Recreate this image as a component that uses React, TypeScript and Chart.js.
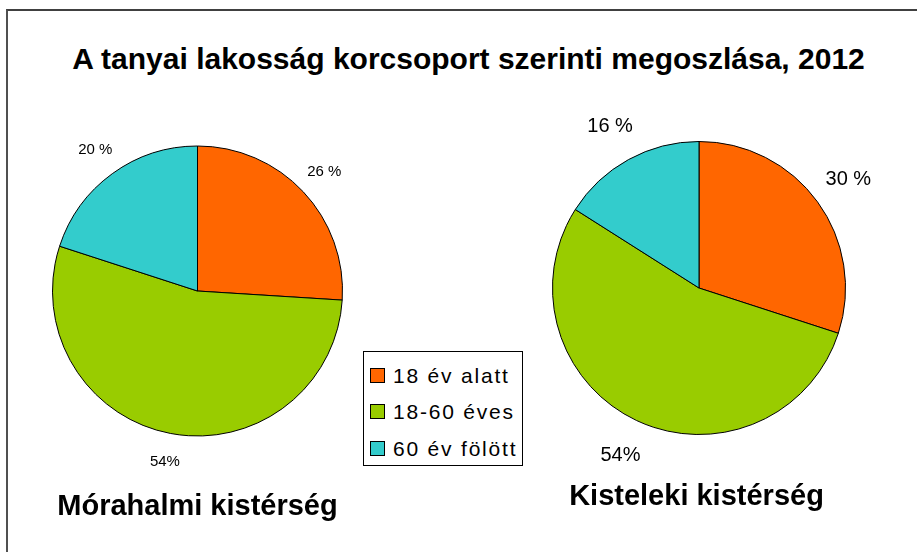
import React, { useEffect, useRef } from "react";
import { Chart, registerables } from "chart.js";

Chart.register(...registerables);

const TITLE = "A tanyai lakosság korcsoport szerinti megoszlása, 2012";
const CATEGORIES = ["18 év alatt", "18-60 éves", "60 év fölött"];
const COLORS = ["#FF6600", "#99CC00", "#33CCCC"];
const REGIONS = ["Mórahalmi kistérség", "Kisteleki kistérség"];
const MORAHALOM_VALUES = [26, 54, 20];
const KISTELEK_VALUES = [30, 54, 16];
const MORAHALOM_LABELS = ["26 %", "54%", "20 %"];
const KISTELEK_LABELS = ["30 %", "54%", "16 %"];

const FONT = '"Liberation Sans", Arial, Helvetica, sans-serif';

const pctLabelPlugin = {
  id: "pctLabels",
  afterDatasetsDraw(chart: any, _args: any, opts: any) {
    const meta = chart.getDatasetMeta(0);
    const ctx = chart.ctx;
    ctx.save();
    ctx.font = `${opts.size}px ${FONT}`;
    ctx.fillStyle = opts.color;
    ctx.textAlign = "center";
    ctx.textBaseline = "middle";
    meta.data.forEach((arc: any, i: number) => {
      const p = arc.getProps(["x", "y", "startAngle", "endAngle", "outerRadius"], true);
      const mid = (p.startAngle + p.endAngle) / 2;
      const r = p.outerRadius * opts.factor;
      ctx.fillText(opts.labels[i], p.x + Math.cos(mid) * r, p.y + Math.sin(mid) * r);
    });
    ctx.restore();
  },
};

type PieProps = {
  values: number[];
  labels: string[];
  padding: { left: number; top: number; right: number; bottom: number };
  labelSize: number;
  factor: number;
};

function PieCanvas({ values, labels, padding, labelSize, factor }: PieProps) {
  const ref = useRef<HTMLCanvasElement>(null);
  useEffect(() => {
    const chart = new Chart(ref.current as HTMLCanvasElement, {
      type: "pie",
      data: {
        labels: CATEGORIES,
        datasets: [
          {
            data: values,
            backgroundColor: COLORS,
            borderColor: "#000000",
            borderWidth: 1,
            hoverBorderWidth: 1,
            hoverOffset: 0,
            offset: 0,
          } as any,
        ],
      },
      options: {
        responsive: false,
        animation: false,
        events: [],
        layout: { padding },
        plugins: {
          legend: { display: false },
          tooltip: { enabled: false },
          title: { display: false },
          pctLabels: { labels, size: labelSize, factor, color: "#000000" },
        } as any,
      },
      plugins: [pctLabelPlugin as any],
    });
    return () => chart.destroy();
  }, []);
  return (
    <canvas
      ref={ref}
      width={917}
      height={552}
      style={{ position: "absolute", left: 0, top: 0, width: 917, height: 552 }}
    />
  );
}

const textBase: React.CSSProperties = {
  position: "absolute",
  whiteSpace: "nowrap",
  fontFamily: FONT,
  color: "#000",
  transform: "translateX(-50%)",
};

export default function App() {
  return (
    <div
      style={{
        position: "absolute",
        left: 0,
        top: 0,
        width: 917,
        height: 552,
        overflow: "hidden",
        background: "#ffffff",
      }}
    >
      <div
        style={{
          position: "absolute",
          left: 6,
          top: 9,
          width: 1000,
          height: 700,
          borderTop: "2px solid #404040",
          borderLeft: "2px solid #505050",
        }}
      />
      <div
        style={{
          ...textBase,
          left: 468.5,
          top: 43.6,
          fontSize: 30,
          lineHeight: "30px",
          fontWeight: "bold",
        }}
      >
        {TITLE}
      </div>

      <PieCanvas
        values={MORAHALOM_VALUES}
        labels={MORAHALOM_LABELS}
        padding={{ left: 52, top: 145.5, right: 574, bottom: 115.5 }}
        labelSize={15}
        factor={1.2}
      />
      <PieCanvas
        values={KISTELEK_VALUES}
        labels={KISTELEK_LABELS}
        padding={{ left: 552, top: 141, right: 71, bottom: 117 }}
        labelSize={20}
        factor={1.26}
      />

      <div
        style={{
          position: "absolute",
          left: 363,
          top: 351,
          width: 160,
          height: 115,
          boxSizing: "border-box",
          border: "1px solid #000",
          background: "#fff",
        }}
      />
      {CATEGORIES.map((c, i) => {
        const cy = 375 + 36.5 * i;
        return (
          <React.Fragment key={c}>
            <div
              style={{
                position: "absolute",
                left: 370,
                top: cy - 7.5,
                width: 15,
                height: 15,
                boxSizing: "border-box",
                border: "1px solid #000",
                background: COLORS[i],
              }}
            />
            <div
              style={{
                position: "absolute",
                left: 393,
                top: cy - 10.5,
                fontFamily: FONT,
                fontSize: 21,
                lineHeight: "21px",
                letterSpacing: "1.8px",
                whiteSpace: "nowrap",
                color: "#000",
              }}
            >
              {c}
            </div>
          </React.Fragment>
        );
      })}

      <div
        style={{
          ...textBase,
          left: 197.5,
          top: 491.4,
          fontSize: 29,
          lineHeight: "29px",
          fontWeight: "bold",
        }}
      >
        {REGIONS[0]}
      </div>
      <div
        style={{
          ...textBase,
          left: 696.5,
          top: 481,
          fontSize: 29,
          lineHeight: "29px",
          fontWeight: "bold",
        }}
      >
        {REGIONS[1]}
      </div>
    </div>
  );
}
